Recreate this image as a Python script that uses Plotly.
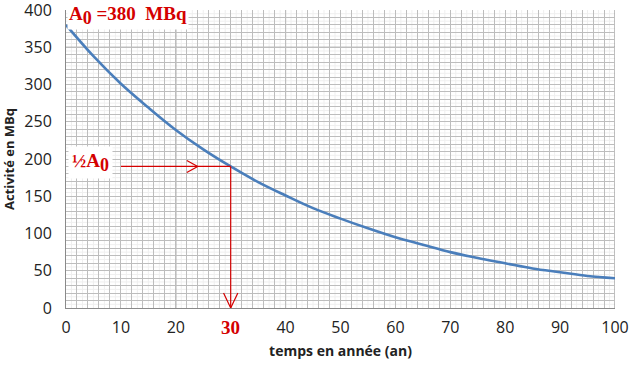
import plotly.graph_objects as go

# ---- data ----
years = [0, 5, 10, 15, 20, 25, 30, 35, 40, 45, 50, 55, 60, 65, 70, 75, 80, 85, 90, 95, 100]
activity = [380, 338, 301, 269, 239, 213, 190, 169, 151, 134, 120, 107, 95, 85, 75, 67, 60, 53, 48, 43, 40]

A0 = 380
HALF_LIFE = 30
HALF_A = 190
ARROW_START_X = 10
ARROW_HEAD_X = 24

x_ticks = list(range(0, 101, 10))
y_ticks = list(range(0, 401, 50))
FAINT_X = [v for v in range(1, 100) if v % 2 == 1]
FAINT_Y = [v for v in range(5, 400, 10)]
MAJOR_X = [20, 40, 100]
MAJOR_Y = [100, 350]

RED = "#d40000"
BLUE = "#4a7ebb"
SERIF = "Liberation Serif"
SANS = "Open Sans"
GRID = "#bdbdbd"

fig = go.Figure()

fig.add_trace(go.Scatter(x=years, y=activity, mode="lines", line=dict(color=BLUE, width=2.6, shape="spline"),
                         hoverinfo="skip", showlegend=False))

# horizontal red arrow at A0/2
fig.add_trace(go.Scatter(x=[ARROW_START_X, HALF_LIFE], y=[HALF_A, HALF_A], mode="lines",
                         line=dict(color=RED, width=1.2), showlegend=False, hoverinfo="skip"))
fig.add_trace(go.Scatter(x=[ARROW_HEAD_X - 2, ARROW_HEAD_X, ARROW_HEAD_X - 2], y=[HALF_A + 8, HALF_A, HALF_A - 8],
                         mode="lines", line=dict(color=RED, width=1.2), showlegend=False, hoverinfo="skip"))
# vertical red arrow at half-life
fig.add_trace(go.Scatter(x=[HALF_LIFE, HALF_LIFE], y=[HALF_A, 0], mode="lines",
                         line=dict(color=RED, width=1.2), showlegend=False, hoverinfo="skip"))
fig.add_trace(go.Scatter(x=[HALF_LIFE - 1.3, HALF_LIFE, HALF_LIFE + 1.3], y=[20, 0, 20],
                         mode="lines", line=dict(color=RED, width=1.2), showlegend=False, hoverinfo="skip"))

shapes = []
for xv in FAINT_X:
    shapes.append(dict(type="line", xref="x", yref="y", x0=xv, x1=xv, y0=0, y1=400,
                       line=dict(color="#efefef", width=1), layer="below"))
for yv in FAINT_Y:
    shapes.append(dict(type="line", xref="x", yref="y", x0=0, x1=100, y0=yv, y1=yv,
                       line=dict(color="#efefef", width=1), layer="below"))
for xv in MAJOR_X:
    shapes.append(dict(type="line", xref="x", yref="y", x0=xv, x1=xv, y0=0, y1=400,
                       line=dict(color="#808080", width=1), layer="below"))
for yv in MAJOR_Y:
    shapes.append(dict(type="line", xref="x", yref="y", x0=0, x1=100, y0=yv, y1=yv,
                       line=dict(color="#808080", width=1), layer="below"))

SUB = "<sub><span style='font-size:18px'>0</span></sub>"
annotations = [
    dict(x=0, y=400, xref="x", yref="y", xanchor="left", yanchor="middle", yshift=-5, xshift=1,
         text="A" + SUB + " =380  MBq", showarrow=False, bgcolor="white", borderpad=1,
         font=dict(family=SERIF, size=19, color=RED, weight="bold")),
    dict(x=0, y=HALF_A, xref="x", yref="y", xanchor="left", yanchor="middle", xshift=2, yshift=4,
         text="½A" + SUB, showarrow=False, bgcolor="white", borderpad=3,
         font=dict(family=SERIF, size=19, color=RED, weight="bold")),
    dict(x=HALF_LIFE, y=0, xref="x", yref="y", xanchor="center", yanchor="top", yshift=-5,
         text="30", showarrow=False, bgcolor="white", borderpad=3,
         font=dict(family=SERIF, size=19, color=RED, weight="bold")),
]

fig.update_layout(
    template="none",
    width=630, height=370,
    margin=dict(l=66, r=15, t=10, b=62),
    paper_bgcolor="white", plot_bgcolor="white",
    shapes=shapes, annotations=annotations,
    font=dict(family=SANS, size=16, color="#222"),
    xaxis=dict(range=[0, 100], tickvals=x_ticks, ticks="", automargin=False, tickangle=0,
               ticklabeloverflow="allow",
               showgrid=True, gridcolor=GRID, gridwidth=1, zeroline=False,
               showline=True, linecolor="#8a8a8a", linewidth=1,
               minor=dict(dtick=2, showgrid=True, gridcolor=GRID, gridwidth=1),
               ticklabelstandoff=5,
               title=dict(text="<b>temps en année (an)</b>", font=dict(family=SANS, size=14), standoff=8)),
    yaxis=dict(range=[0, 400], tickvals=y_ticks, ticks="", automargin=False,
               ticklabeloverflow="allow",
               showgrid=True, gridcolor=GRID, gridwidth=1, zeroline=False,
               showline=True, linecolor="#8a8a8a", linewidth=1,
               minor=dict(dtick=10, showgrid=True, gridcolor=GRID, gridwidth=1),
               ticklabelstandoff=10,
               title=dict(text="<b>Activité en MBq</b>", font=dict(family=SANS, size=13), standoff=10)),
)

fig.write_html("out.html")
